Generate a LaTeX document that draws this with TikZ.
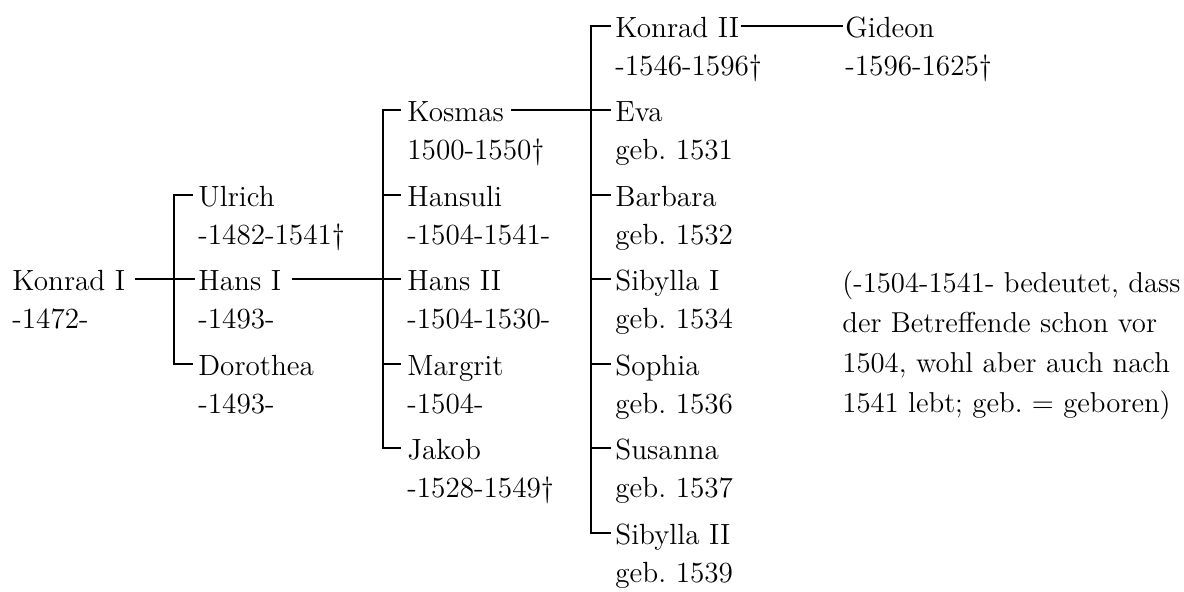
\documentclass[tikz,border=0pt]{standalone}
\usetikzlibrary{calc}
\begin{document}
\frenchspacing
\begin{tikzpicture}[x=0.5pt,y=-0.5pt,
  nm/.style={anchor=base west, inner sep=0pt, font=\fontsize{14.6}{18}\selectfont\frenchspacing},
  dt/.style={nm},
  note/.style={anchor=north west, inner sep=0pt, align=left, font=\fontsize{14.4}{20}\selectfont\frenchspacing},
  link/.style={line width=0.7pt, black}]
\useasboundingbox (0,0) rectangle (1184,592);
% column 1
\node[nm] (konrad1) at (12,291) {Konrad I};
\node[dt] (konrad1d) at (12,329) {-1472-};
% column 2
\node[nm] (ulrich) at (198,207) {Ulrich};
\node[dt] (ulrichd) at (198,245) {-1482-1541\textdagger};
\node[nm] (hans1) at (198,291) {Hans I};
\node[dt] (hans1d) at (198,329) {-1493-};
\node[nm] (dorothea) at (198,376) {Dorothea};
\node[dt] (dorothead) at (198,414) {-1493-};
% column 3
\node[nm] (kosmas) at (407,122) {Kosmas};
\node[dt] (kosmasd) at (407,160) {1500-1550\textdagger};
\node[nm] (hansuli) at (407,207) {Hansuli};
\node[dt] (hansulid) at (407,245) {-1504-1541-};
\node[nm] (hans2) at (407,291) {Hans II};
\node[dt] (hans2d) at (407,329) {-1504-1530-};
\node[nm] (margrit) at (407,376) {Margrit};
\node[dt] (margritd) at (407,414) {-1504-};
\node[nm] (jakob) at (407,460) {Jakob};
\node[dt] (jakobd) at (407,498) {-1528-1549\textdagger};
% column 4
\node[nm] (konrad2) at (615,38) {Konrad II};
\node[dt] (konrad2d) at (615,76) {-1546-1596\textdagger};
\node[nm] (eva) at (615,122) {Eva};
\node[dt] (evad) at (615,160) {geb. 1531};
\node[nm] (barbara) at (615,207) {Barbara};
\node[dt] (barbarad) at (615,245) {geb. 1532};
\node[nm] (sibylla1) at (615,291) {Sibylla I};
\node[dt] (sibylla1d) at (615,329) {geb. 1534};
\node[nm] (sophia) at (615,376) {Sophia};
\node[dt] (sophiad) at (615,414) {geb. 1536};
\node[nm] (susanna) at (615,460) {Susanna};
\node[dt] (susannad) at (615,498) {geb. 1537};
\node[nm] (sibylla2) at (615,545) {Sibylla II};
\node[dt] (sibylla2d) at (615,583) {geb. 1539};
% column 5
\node[nm] (gideon) at (845,38) {Gideon};
\node[dt] (gideond) at (845,76) {-1596-1625\textdagger};
% note
\node[note] (legend) at (842,271) {(-1504-1541- bedeutet, dass\\der Betreffende schon vor\\1504, wohl aber auch nach\\1541 lebt; geb. = geboren)};
% connectors: Konrad I
\draw[link] ($(konrad1.base east)+(9,-12)$) -- ($(hans1.base west)+(-3,-12)$);
\draw[link] ($(ulrich.base west)+(-5,-12)$) -- ($(ulrich.base west)+(-24,-12)$)
  -- ($(dorothea.base west)+(-24,-12)$) -- ($(dorothea.base west)+(-5,-12)$);
% Hans I
\draw[link] ($(hans1.base east)+(10,-12)$) -- ($(hans2.base west)+(-6,-12)$);
\draw[link] ($(kosmas.base west)+(-6,-12)$) -- ($(kosmas.base west)+(-24,-12)$)
  -- ($(jakob.base west)+(-24,-12)$) -- ($(jakob.base west)+(-6,-12)$);
\draw[link] ($(hansuli.base west)+(-24,-12)$) -- ($(hansuli.base west)+(-6,-12)$);
\draw[link] ($(margrit.base west)+(-24,-12)$) -- ($(margrit.base west)+(-6,-12)$);
% Kosmas
\draw[link] ($(kosmas.base east)+(7,-12)$) -- ($(eva.base west)+(-4,-12)$);
\draw[link] ($(konrad2.base west)+(-4,-12)$) -- ($(konrad2.base west)+(-24,-12)$)
  -- ($(sibylla2.base west)+(-24,-12)$) -- ($(sibylla2.base west)+(-4,-12)$);
\draw[link] ($(barbara.base west)+(-24,-12)$) -- ($(barbara.base west)+(-4,-12)$);
\draw[link] ($(sibylla1.base west)+(-24,-12)$) -- ($(sibylla1.base west)+(-4,-12)$);
\draw[link] ($(sophia.base west)+(-24,-12)$) -- ($(sophia.base west)+(-4,-12)$);
\draw[link] ($(susanna.base west)+(-24,-12)$) -- ($(susanna.base west)+(-4,-12)$);
% Konrad II
\draw[link] ($(konrad2.base east)+(1,-12)$) -- ($(gideon.base west)+(-2,-12)$);
\end{tikzpicture}
\end{document}
